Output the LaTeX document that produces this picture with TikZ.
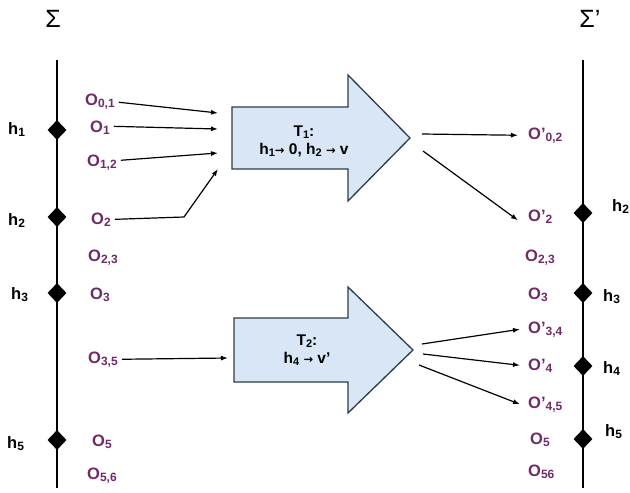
\documentclass[tikz,border=0pt]{standalone}
\usepackage{fontspec}
\setmainfont{Liberation Sans}
\newfontfamily\dvfont{DejaVu Sans}
\usetikzlibrary{arrows.meta,shapes.geometric}
\definecolor{opurple}{RGB}{112,42,102}
\definecolor{tfill}{RGB}{216,230,245}
\definecolor{tdraw}{RGB}{45,60,72}
\newcommand\sbs[1]{\raisebox{-0.25ex}{\fontsize{12}{12}\selectfont #1}}
\newcommand\tsb[1]{\raisebox{-0.25ex}{\fontsize{11}{11}\selectfont #1}}
\newcommand\sarr{{\dvfont\bfseries\fontsize{11.5}{11.5}\selectfont →}}
\begin{document}
\begin{tikzpicture}[x=1pt,y=-1pt,
  olab/.style={font=\bfseries\fontsize{16.5}{19}\selectfont, text=opurple, inner sep=2pt, anchor=base west},
  hlab/.style={font=\bfseries\fontsize{16.5}{19}\selectfont, text=black, inner sep=0pt, anchor=base west},
  sig/.style={font=\fontsize{25}{27}\selectfont, inner sep=0pt},
  dia/.style={diamond, fill=black, inner sep=0pt, minimum width=19pt, minimum height=20pt},
  arr/.style={line width=1.2pt, -{Latex[length=7pt,width=5pt]}},
  tarrow/.style={fill=tfill, draw=tdraw, line width=1.3pt, line join=miter},
  ttext/.style={font=\bfseries\fontsize{15.5}{18}\selectfont, align=center, inner sep=0pt},
  axis/.style={line width=1.3pt}]
\useasboundingbox (0,0) rectangle (630,493);

% titles
\node[sig] (S) at (53,19) {Σ};
\node[sig] (Sp) at (590,19) {Σ’};

% axes
\coordinate (ltop) at (57,60); \coordinate (lbot) at (57,488);
\coordinate (rtop) at (583,60); \coordinate (rbot) at (583,488);
\draw[axis] (ltop) -- (lbot);
\draw[axis] (rtop) -- (rbot);

% left diamonds and h labels
\node[dia] (lh1) at (57,130) {};
\node[dia] (lh2) at (57,217) {};
\node[dia] (lh3) at (57,293) {};
\node[dia] (lh5) at (57,440) {};
\node[hlab] (hl1) at (8,134) {h\sbs{1}};
\node[hlab] (hl2) at (8,225) {h\sbs{2}};
\node[hlab] (hl3) at (11,299) {h\sbs{3}};
\node[hlab] (hl5) at (7,448) {h\sbs{5}};

% right diamonds and h labels
\node[dia] (rh2) at (583,213) {};
\node[dia] (rh3) at (583,293) {};
\node[dia] (rh4) at (583,366) {};
\node[dia] (rh5) at (583,439) {};
\node[hlab] (hr2) at (612,211) {h\sbs{2}};
\node[hlab] (hr3) at (603,301) {h\sbs{3}};
\node[hlab] (hr4) at (603,373) {h\sbs{4}};
\node[hlab] (hr5) at (605,436) {h\sbs{5}};

% left O labels
\node[olab] (O01) at (83,105) {O\sbs{0,1}};
\node[olab] (O1)  at (88,132) {O\sbs{1}};
\node[olab] (O12) at (85,166) {O\sbs{1,2}};
\node[olab] (O2)  at (89,224) {O\sbs{2}};
\node[olab] (O23) at (86,261) {O\sbs{2,3}};
\node[olab] (O3)  at (88,299) {O\sbs{3}};
\node[olab] (O35) at (86,363) {O\sbs{3,5}};
\node[olab] (O5)  at (90,446) {O\sbs{5}};
\node[olab] (O56) at (85,479) {O\sbs{5,6}};

% right O labels
\node[olab] (Rp02) at (526,139) {O’\sbs{0,2}};
\node[olab] (Rp2)  at (526,221) {O’\sbs{2}};
\node[olab] (R23)  at (523,261) {O\sbs{2,3}};
\node[olab] (R3)   at (526,299) {O\sbs{3}};
\node[olab] (Rp34) at (526,333) {O’\sbs{3,4}};
\node[olab] (Rp4)  at (526,370) {O’\sbs{4}};
\node[olab] (Rp45) at (526,408) {O’\sbs{4,5}};
\node[olab] (R5)   at (528,444) {O\sbs{5}};
\node[olab] (R56)  at (526,476) {O\sbs{56}};

% transformation arrows
\draw[tarrow] (232,107) -- (348,107) -- (348,75) -- (410,138) -- (348,201) -- (348,169) -- (232,169) -- cycle;
\node[ttext] (T1) at (304,141) {T\tsb{1}:\\h\tsb{1}\sarr\ 0, h\tsb{2}\ \sarr\ v};
\draw[tarrow] (234,318) -- (348,318) -- (348,287) -- (413,350) -- (348,413) -- (348,382) -- (234,382) -- cycle;
\node[ttext] (T2) at (307,350) {T\tsb{2}:\\h\tsb{4}\ \sarr\ v’};

% connector end points on the transformation arrows
\coordinate (a01) at (218,113);
\coordinate (a1)  at (218,129);
\coordinate (a12) at (218,153);
\coordinate (a2b) at (184,217);
\coordinate (a2)  at (218,169);
\coordinate (a35) at (228,358);
\coordinate (b1) at (422,134);
\coordinate (b2) at (423,151);
\coordinate (c1) at (422,344);
\coordinate (c2) at (423,354);
\coordinate (c3) at (419,365);

% left connectors
\draw[arr] ([xshift=2pt,yshift=-1pt]O01.east) -- (a01);
\draw[arr] ([xshift=2pt,yshift=1pt]O1.east) -- (a1);
\draw[arr] ([xshift=2pt,yshift=2pt]O12.east) -- (a12);
\draw[arr] ([xshift=2pt]O2.east) -- (a2b) -- (a2);
\draw[arr] ([xshift=2pt]O35.east) -- (a35);

% right connectors
\draw[arr] (b1) -- ([xshift=-8pt]Rp02.west);
\draw[arr] (b2) -- ([xshift=-8pt,yshift=-4pt]Rp2.west);
\draw[arr] (c1) -- ([xshift=-6pt]Rp34.west);
\draw[arr] (c2) -- ([xshift=-6pt]Rp4.west);
\draw[arr] (c3) -- ([xshift=-6pt]Rp45.west);
\end{tikzpicture}
\end{document}
